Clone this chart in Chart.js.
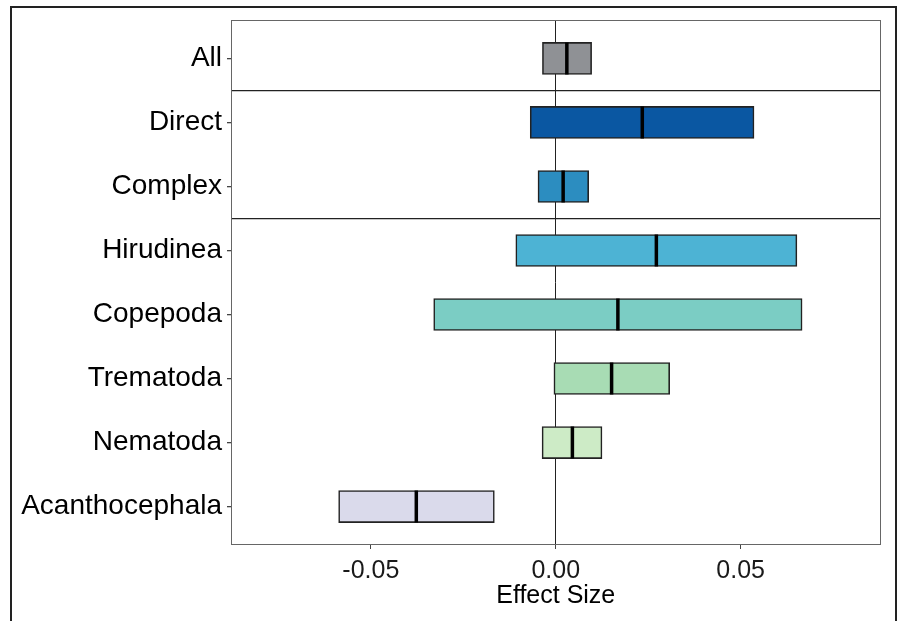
<!DOCTYPE html>
<html>
<head>
<meta charset="utf-8">
<script src="https://cdn.jsdelivr.net/npm/chart.js@4"></script>
<style>
  html, body { margin: 0; padding: 0; background: #fff; }
  #wrap { position: relative; width: 900px; height: 621px; overflow: hidden; }
  #frame { position: absolute; left: 10px; top: 6px; width: 883px; height: 700px; border: 2px solid #222; }
  canvas { position: absolute; left: 0; top: 0; }
</style>
</head>
<body>
<div id="wrap">
  <div id="frame"></div>
  <canvas id="grafico" width="900" height="621"></canvas>
</div>
<script>
const categorias = ['All', 'Direct', 'Complex', 'Hirudinea', 'Copepoda', 'Trematoda', 'Nematoda', 'Acanthocephala'];
const limiteInferior = [-0.0036, -0.0069, -0.0048, -0.0108, -0.0330, -0.0005, -0.0037, -0.0587];
const limiteSuperior = [0.0097, 0.0536, 0.0089, 0.0652, 0.0666, 0.0308, 0.0125, -0.0166];
const mediana = [0.0030, 0.0234, 0.0020, 0.0272, 0.0168, 0.0151, 0.0045, -0.0377];
const cores = ['#8f9195', '#0a57a2', '#2c8dc0', '#4db3d4', '#7bcdc4', '#a8dcb4', '#cdebc6', '#dadaeb'];
const ticksX = [-0.05, 0, 0.05];
const separadores = [1.5, 3.5];

const posicoes = categorias.map((c, i) => i + 1);
const ticksY = posicoes.concat(separadores).sort((a, b) => a - b);

const moldura = {
  id: 'moldura',
  afterDraw(chart) {
    const { ctx, chartArea: a } = chart;
    ctx.save();
    ctx.strokeStyle = '#666';
    ctx.lineWidth = 1;
    ctx.strokeRect(Math.round(a.left) + 0.5, Math.round(a.top) + 0.5,
      Math.round(a.right - a.left) - 1, Math.round(a.bottom - a.top) - 1);
    ctx.restore();
  }
};

const ctx = document.getElementById('grafico').getContext('2d');
new Chart(ctx, {
  type: 'bar',
  data: {
    datasets: [
      {
        type: 'bar',
        data: posicoes.map((p, i) => ({ y: p, x: [limiteInferior[i], limiteSuperior[i]] })),
        backgroundColor: cores,
        borderColor: '#222',
        borderWidth: 1.6,
        borderSkipped: false,
        barThickness: 32,
        order: 2
      },
      {
        type: 'scatter',
        data: posicoes.map((p, i) => ({ y: p, x: mediana[i] })),
        pointStyle: 'line',
        rotation: 90,
        radius: 16,
        borderColor: '#000',
        borderWidth: 3.5,
        order: 1
      }
    ]
  },
  options: {
    indexAxis: 'y',
    responsive: false,
    animation: false,
    layout: { padding: { top: 20, right: 17, left: 0, bottom: 0 } },
    plugins: { legend: { display: false }, tooltip: { enabled: false } },
    scales: {
      x: {
        type: 'linear',
        min: -0.0878,
        max: 0.0878,
        z: 1,
        afterBuildTicks: s => { s.ticks = ticksX.map(v => ({ value: v })); },
        afterFit: s => { s.height = 76; },
        grid: {
          color: c => (c.tick && c.tick.value === 0 ? '#222' : 'rgba(0,0,0,0)'),
          tickColor: '#444',
          tickLength: 4,
          lineWidth: 1
        },
        border: { display: false },
        ticks: {
          color: '#1a1a1a',
          padding: 12,
          font: { family: 'Liberation Sans, Arial, sans-serif', size: 25, lineHeight: 0.8 },
          callback: v => v.toFixed(2)
        },
        title: {
          display: true,
          text: 'Effect Size',
          color: '#000',
          padding: { top: 0, bottom: 15 },
          font: { family: 'Liberation Sans, Arial, sans-serif', size: 25, lineHeight: 0.8 }
        }
      },
      y: {
        type: 'linear',
        reverse: true,
        min: 0.4,
        max: 8.6,
        offset: false,
        afterBuildTicks: s => { s.ticks = ticksY.map(v => ({ value: v })); },
        afterFit: s => { s.width = 231; },
        grid: {
          offset: false,
          color: c => (c.tick && separadores.includes(c.tick.value) ? '#222' : 'rgba(0,0,0,0)'),
          tickColor: c => (c.tick && separadores.includes(c.tick.value) ? 'rgba(0,0,0,0)' : '#444'),
          tickLength: 4,
          lineWidth: 1.3
        },
        border: { display: false },
        ticks: {
          autoSkip: false,
          color: '#000',
          padding: 5,
          font: { family: 'Liberation Sans, Arial, sans-serif', size: 28, lineHeight: 1 },
          callback: v => (Number.isInteger(v) ? categorias[v - 1] : '')
        }
      }
    }
  },
  plugins: [moldura]
});
</script>
</body>
</html>
